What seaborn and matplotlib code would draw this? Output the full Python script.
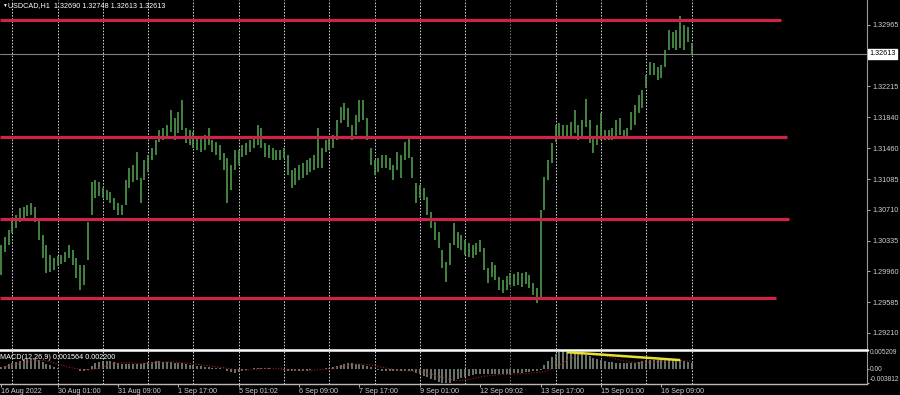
import matplotlib
matplotlib.use("Agg")
import matplotlib.pyplot as plt
import matplotlib.transforms as mtransforms
import numpy as np
import pandas as pd
import seaborn as sns

# ---------------- data (each entry = 2 hourly bars) ----------------
header_text = "USDCAD,H1  1.32690 1.32748 1.32613 1.32613"
macd_header = "MACD(12,26,9) 0.001564 0.002200"

highs = [
    1.3028, 1.3038, 1.3046, 1.3059, 1.3065, 1.3073, 1.3074, 1.3077, 1.3079, 1.3074,
    1.3061, 1.3040, 1.3028, 1.3016, 1.3012, 1.3015, 1.3016, 1.3020, 1.3028, 1.3022,
    1.3012, 1.3004, 1.3004, 1.3056, 1.3105, 1.3107, 1.3105, 1.3098, 1.3095, 1.3093,
    1.3085, 1.3079, 1.3077, 1.3107, 1.3122, 1.3126, 1.3142, 1.3110, 1.3132, 1.3138,
    1.3146, 1.3156, 1.3168, 1.3171, 1.3175, 1.3193, 1.3183, 1.3190, 1.3205, 1.3171,
    1.3168, 1.3166, 1.3160, 1.3159, 1.3162, 1.3171, 1.3156, 1.3154, 1.3150, 1.3140,
    1.3134, 1.3126, 1.3144, 1.3144, 1.3150, 1.3153, 1.3156, 1.3160, 1.3175, 1.3171,
    1.3153, 1.3150, 1.3146, 1.3144, 1.3144, 1.3146, 1.3138, 1.3120, 1.3122, 1.3126,
    1.3128, 1.3132, 1.3134, 1.3138, 1.3171, 1.3146, 1.3156, 1.3159, 1.3162, 1.3181,
    1.3196, 1.3201, 1.3195, 1.3175, 1.3187, 1.3205, 1.3205, 1.3183, 1.3146, 1.3132,
    1.3134, 1.3138, 1.3138, 1.3134, 1.3126, 1.3142, 1.3138, 1.3154, 1.3159, 1.3135,
    1.3104, 1.3101, 1.3098, 1.3087, 1.3068, 1.3056, 1.3044, 1.3022, 1.3007, 1.3031,
    1.3055, 1.3044, 1.3040, 1.3034, 1.3031, 1.3028, 1.3031, 1.3034, 1.3024, 1.3000,
    1.3007, 1.3004, 1.2989, 1.2985, 1.2990, 1.2994, 1.2993, 1.2995, 1.2994, 1.2995,
    1.2992, 1.2982, 1.2976, 1.3071, 1.3111, 1.3132, 1.3153, 1.3175, 1.3177, 1.3175,
    1.3175, 1.3178, 1.3193, 1.3175, 1.3181, 1.3206, 1.3181, 1.3160, 1.3175, 1.3189,
    1.3168, 1.3168, 1.3171, 1.3181, 1.3183, 1.3168, 1.3171, 1.3190, 1.3199, 1.3211,
    1.3217, 1.3236, 1.3251, 1.3250, 1.3245, 1.3248, 1.3266, 1.3290, 1.3288, 1.3290,
    1.3307, 1.3297, 1.3294, 1.3275,
]
lows = [
    1.2992, 1.3020, 1.3028, 1.3043, 1.3049, 1.3056, 1.3061, 1.3063, 1.3065, 1.3056,
    1.3034, 1.3012, 1.2994, 1.2995, 1.2998, 1.3002, 1.3005, 1.3007, 1.3012, 1.3004,
    1.2988, 1.2973, 1.2979, 1.3010, 1.3065, 1.3085, 1.3088, 1.3085, 1.3083, 1.3079,
    1.3071, 1.3065, 1.3065, 1.3077, 1.3098, 1.3105, 1.3107, 1.3079, 1.3107, 1.3117,
    1.3132, 1.3138, 1.3154, 1.3156, 1.3159, 1.3166, 1.3156, 1.3165, 1.3168, 1.3153,
    1.3150, 1.3146, 1.3144, 1.3142, 1.3144, 1.3150, 1.3142, 1.3138, 1.3132, 1.3120,
    1.3079, 1.3095, 1.3120, 1.3126, 1.3135, 1.3138, 1.3142, 1.3146, 1.3150, 1.3146,
    1.3135, 1.3134, 1.3132, 1.3132, 1.3132, 1.3134, 1.3114, 1.3098, 1.3101, 1.3107,
    1.3110, 1.3114, 1.3117, 1.3120, 1.3122, 1.3122, 1.3142, 1.3144, 1.3146, 1.3156,
    1.3177, 1.3181, 1.3172, 1.3156, 1.3162, 1.3178, 1.3181, 1.3156, 1.3126, 1.3114,
    1.3117, 1.3122, 1.3122, 1.3120, 1.3107, 1.3120, 1.3110, 1.3132, 1.3134, 1.3110,
    1.3079, 1.3085, 1.3083, 1.3065, 1.3049, 1.3034, 1.3024, 1.3000, 1.2983, 1.3004,
    1.3028, 1.3024, 1.3022, 1.3016, 1.3013, 1.3012, 1.3016, 1.3020, 1.2998, 1.2982,
    1.2989, 1.2985, 1.2973, 1.2970, 1.2973, 1.2979, 1.2978, 1.2979, 1.2977, 1.2981,
    1.2976, 1.2967, 1.2957, 1.2961, 1.3071, 1.3107, 1.3128, 1.3154, 1.3159, 1.3160,
    1.3160, 1.3161, 1.3165, 1.3156, 1.3159, 1.3172, 1.3153, 1.3140, 1.3150, 1.3156,
    1.3156, 1.3156, 1.3156, 1.3160, 1.3162, 1.3159, 1.3159, 1.3168, 1.3175, 1.3189,
    1.3195, 1.3220, 1.3236, 1.3236, 1.3229, 1.3232, 1.3245, 1.3266, 1.3268, 1.3266,
    1.3268, 1.3266, 1.3276, 1.3261,
]
macd_hist = [
    0.0006, 0.0009, 0.0013, 0.0016, 0.0020, 0.0022, 0.0026, 0.0028, 0.0028, 0.0026,
    0.0023, 0.0020, 0.0014, 0.0010, 0.0006, 0.0003, 0.0001, 0.0001, 0.0000, 0.0000,
    -0.0001, -0.0004, -0.0005, -0.0002, 0.0008, 0.0015, 0.0019, 0.0022, 0.0022, 0.0021,
    0.0019, 0.0016, 0.0014, 0.0013, 0.0014, 0.0013, 0.0013, 0.0014, 0.0017, 0.0019,
    0.0020, 0.0021, 0.0021, 0.0020, 0.0019, 0.0018, 0.0017, 0.0016, 0.0015, 0.0013,
    0.0012, 0.0010, 0.0009, 0.0007, 0.0006, 0.0005, 0.0004, 0.0003, 0.0002, -0.0001,
    -0.0004, -0.0007, -0.0009, -0.0008, -0.0006, -0.0002, 0.0001, 0.0003, 0.0004, 0.0004,
    0.0003, 0.0002, 0.0001, 0.0000, -0.0001, -0.0002, -0.0004, -0.0005, -0.0006, -0.0006,
    -0.0005, -0.0004, -0.0003, -0.0001, 0.0000, 0.0001, 0.0002, 0.0004, 0.0006, 0.0008,
    0.0011, 0.0014, 0.0015, 0.0015, 0.0014, 0.0013, 0.0012, 0.0009, 0.0005, 0.0001,
    -0.0002, -0.0004, -0.0005, -0.0006, -0.0006, -0.0006, -0.0005, -0.0004, -0.0004, -0.0006,
    -0.0009, -0.0013, -0.0017, -0.0021, -0.0025, -0.0029, -0.0033, -0.0036, -0.0038, -0.0036,
    -0.0031, -0.0027, -0.0024, -0.0020, -0.0017, -0.0015, -0.0014, -0.0013, -0.0013, -0.0014,
    -0.0014, -0.0013, -0.0013, -0.0013, -0.0012, -0.0012, -0.0011, -0.0010, -0.0009, -0.0008,
    -0.0007, -0.0006, -0.0006, -0.0002, 0.0010, 0.0022, 0.0032, 0.0040, 0.0046, 0.0050,
    0.0052, 0.0051, 0.0049, 0.0045, 0.0041, 0.0038, 0.0034, 0.0030, 0.0027, 0.0024,
    0.0022, 0.0020, 0.0018, 0.0017, 0.0016, 0.0015, 0.0015, 0.0016, 0.0017, 0.0019,
    0.0021, 0.0023, 0.0024, 0.0025, 0.0025, 0.0025, 0.0025, 0.0026, 0.0026, 0.0025,
    0.0024, 0.0022, 0.0019, 0.0016,
]
macd_signal = [
    0.0005, 0.0007, 0.0009, 0.0011, 0.0013, 0.0015,
    0.0017, 0.0019, 0.0021, 0.0022, 0.0023, 0.0023,
    0.0022, 0.0020, 0.0017, 0.0014, 0.0011, 0.0008,
    0.0005, 0.0003, 0.0001, 0.0000, -0.0001, -0.0002,
    -0.0002, 0.0000, 0.0003, 0.0006, 0.0009, 0.0012,
    0.0014, 0.0016, 0.0017, 0.0017, 0.0017, 0.0016,
    0.0015, 0.0015, 0.0015, 0.0015, 0.0016, 0.0017,
    0.0018, 0.0019, 0.0019, 0.0019, 0.0019, 0.0018,
    0.0017, 0.0016, 0.0015, 0.0014, 0.0013, 0.0011,
    0.0010, 0.0009, 0.0007, 0.0006, 0.0005, 0.0004,
    0.0002, 0.0001, -0.0001, -0.0002, -0.0003, -0.0003,
    -0.0002, -0.0001, 0.0000, 0.0001, 0.0002, 0.0002,
    0.0002, 0.0002, 0.0001, 0.0000, -0.0001, -0.0002,
    -0.0003, -0.0004, -0.0004, -0.0004, -0.0004, -0.0003,
    -0.0002, -0.0001, 0.0000, 0.0001, 0.0002, 0.0004,
    0.0006, 0.0008, 0.0010, 0.0012, 0.0013, 0.0013,
    0.0013, 0.0012, 0.0011, 0.0009, 0.0007, 0.0005,
    0.0003, 0.0001, -0.0001, -0.0002, -0.0003, -0.0004,
    -0.0005, -0.0005, -0.0006, -0.0007, -0.0009, -0.0011,
    -0.0013, -0.0016, -0.0019, -0.0022, -0.0025, -0.0027,
    -0.0029, -0.0030, -0.0030, -0.0029, -0.0027, -0.0025,
    -0.0023, -0.0021, -0.0019, -0.0018, -0.0017, -0.0016,
    -0.0015, -0.0014, -0.0014, -0.0013, -0.0013, -0.0013,
    -0.0012, -0.0012, -0.0011, -0.0010, -0.0009, -0.0008,
    -0.0006, -0.0003, 0.0001, 0.0006, 0.0011, 0.0017,
    0.0023, 0.0028, 0.0033, 0.0036, 0.0039, 0.0041,
    0.0042, 0.0042, 0.0041, 0.0039, 0.0036, 0.0033,
    0.0030, 0.0027, 0.0024, 0.0022, 0.0020, 0.0018,
    0.0017, 0.0017, 0.0017, 0.0017, 0.0018, 0.0019,
    0.0020, 0.0021, 0.0022, 0.0023, 0.0023, 0.0023,
    0.0023, 0.0022, 0.0022, 0.0022,
]

level_prices = [1.33026, 1.31599, 1.30598, 1.29634]
level_ends = [206.7, 208.3, 208.8, 205.4]
current_price = 1.32613

price_ticks = [1.32965, 1.32215, 1.31840, 1.31460, 1.31085,
               1.30710, 1.30335, 1.29960, 1.29585, 1.29210]
macd_ticks = [0.005209, 0.0, -0.003812]
macd_tick_labels = ["0.005209", "0.00", "-0.003812"]

time_ticks = [0, 15, 31, 47, 63, 79, 95, 111, 127, 143, 159, 175]
time_labels = ["16 Aug 2022", "30 Aug 01:00", "31 Aug 09:00", "1 Sep 17:00",
               "5 Sep 01:02", "6 Sep 09:00", "7 Sep 17:00", "9 Sep 01:00",
               "12 Sep 09:02", "13 Sep 17:00", "15 Sep 01:00", "16 Sep 09:00"]
day_separators = list(range(3, 184, 12))
dim_separators = [135]

trend_x = [150, 180]
trend_y = [0.0045, 0.0024]

# ---------------- drawing ----------------
sns.set_theme(style="dark")
plt.rcParams["font.family"] = ["Liberation Sans", "DejaVu Sans"]

FS = 5.2
FS_MACD = 4.8
W, H = 900, 395
fig = plt.figure(figsize=(9, 3.95), dpi=100, facecolor="black")


def rect(l, t, r, b):
    return [l / W, 1 - b / H, (r - l) / W, (b - t) / H]


ax = fig.add_axes(rect(0, 0, 867, 348.5))
ax2 = fig.add_axes(rect(0, 349.5, 867, 383.7), sharex=ax)

df = pd.DataFrame({"i": np.arange(len(highs)), "high": highs, "low": lows,
                   "hist": macd_hist, "signal": macd_signal})

for a in (ax, ax2):
    a.set_facecolor("black")
    a.grid(False)
    for s in a.spines.values():
        s.set_visible(False)

ax.set_xlim(-0.265, 229.5)
ax.set_ylim(1.29018, 1.3327)
ax2.set_ylim(-0.00387, 0.00520)

# vertical dotted separators
for d in day_separators:
    c = "#7a7a7a" if d in dim_separators else "#d8d8d8"
    for a in (ax, ax2):
        a.axvline(d, color=c, lw=0.7, ls=(0, (1.6, 1.6)), zorder=1)

# current price line
ax.axhline(current_price, color="#808080", lw=0.8, zorder=1)

# price bars
ax.vlines(df["i"], df["low"], df["high"], color="#4f9a4f", lw=1.2, zorder=2)

# horizontal levels
for p, e in zip(level_prices, level_ends):
    ax.plot([-0.265, e], [p, p], color="#cc2446", lw=2.3,
            solid_capstyle="butt", zorder=3)

# right price axis
ax.yaxis.tick_right()
ax.set_yticks(price_ticks)
ax.set_yticklabels([f"{v:.5f}" for v in price_ticks])
ax.tick_params(axis="y", colors="#d0d0d0", labelsize=FS, length=2.5,
               width=0.6, pad=1.3, direction="out", right=True, left=False)
ax.tick_params(axis="x", bottom=False, labelbottom=False)
ax.spines["right"].set_visible(True)
ax.spines["right"].set_color("#9a9a9a")
ax.spines["right"].set_linewidth(0.8)

blend = mtransforms.blended_transform_factory(ax.transAxes, ax.transData)
ax.text(1.0025, current_price, f"{current_price:.5f}", transform=blend,
        fontsize=FS, color="black", va="center", ha="left", zorder=5,
        bbox=dict(boxstyle="square,pad=0.18", fc="white", ec="white"))

fig.text(2 / W, 1 - 5.5 / H, "▼", fontsize=3.5, color="white", va="center", ha="left")
fig.text(8 / W, 1 - 5.5 / H, header_text, fontsize=FS, color="white",
         va="center", ha="left")

# MACD panel
ax2.vlines(df["i"], 0, df["hist"], color="#7d897d", lw=1.2, zorder=2)
sns.lineplot(data=df, x="i", y="signal", ax=ax2, color="#a02020", lw=0.8,
             linestyle=(0, (1, 1.5)), legend=False, zorder=3)
ax2.plot(trend_x, trend_y, color="#e8e030", lw=1.8, solid_capstyle="butt", zorder=4)
ax2.set_xlabel("")
ax2.set_ylabel("")
ax.set_xlabel("")
ax.set_ylabel("")

ax2.yaxis.tick_right()
ax2.set_yticks(macd_ticks)
ax2.set_yticklabels(macd_tick_labels)
for lab, va in zip(ax2.get_yticklabels(), ["top", "center", "bottom"]):
    lab.set_verticalalignment(va)
ax2.tick_params(axis="y", colors="#d0d0d0", labelsize=FS_MACD, length=1.5,
                width=0.6, pad=0.5, direction="out", right=True, left=False)

ax2.set_xticks(time_ticks)
ax2.set_xticklabels(time_labels, ha="left")
ax2.tick_params(axis="x", colors="#d0d0d0", labelsize=FS, length=2,
                width=0.6, pad=0.8, direction="out", bottom=True)
ax2.set_xlim(-0.265, 229.5)

ax2.spines["top"].set_visible(True)
ax2.spines["top"].set_color("white")
ax2.spines["top"].set_linewidth(1.8)
ax2.spines["bottom"].set_visible(True)
ax2.spines["bottom"].set_color("#b8b8b8")
ax2.spines["bottom"].set_linewidth(1.0)
ax2.spines["right"].set_visible(True)
ax2.spines["right"].set_color("#9a9a9a")
ax2.spines["right"].set_linewidth(0.8)

ax2.text(0.0, 0.76, macd_header, transform=ax2.transAxes, fontsize=FS,
         color="white", va="center", ha="left", zorder=5)

fig.savefig("out.png", dpi=100, facecolor="black")
